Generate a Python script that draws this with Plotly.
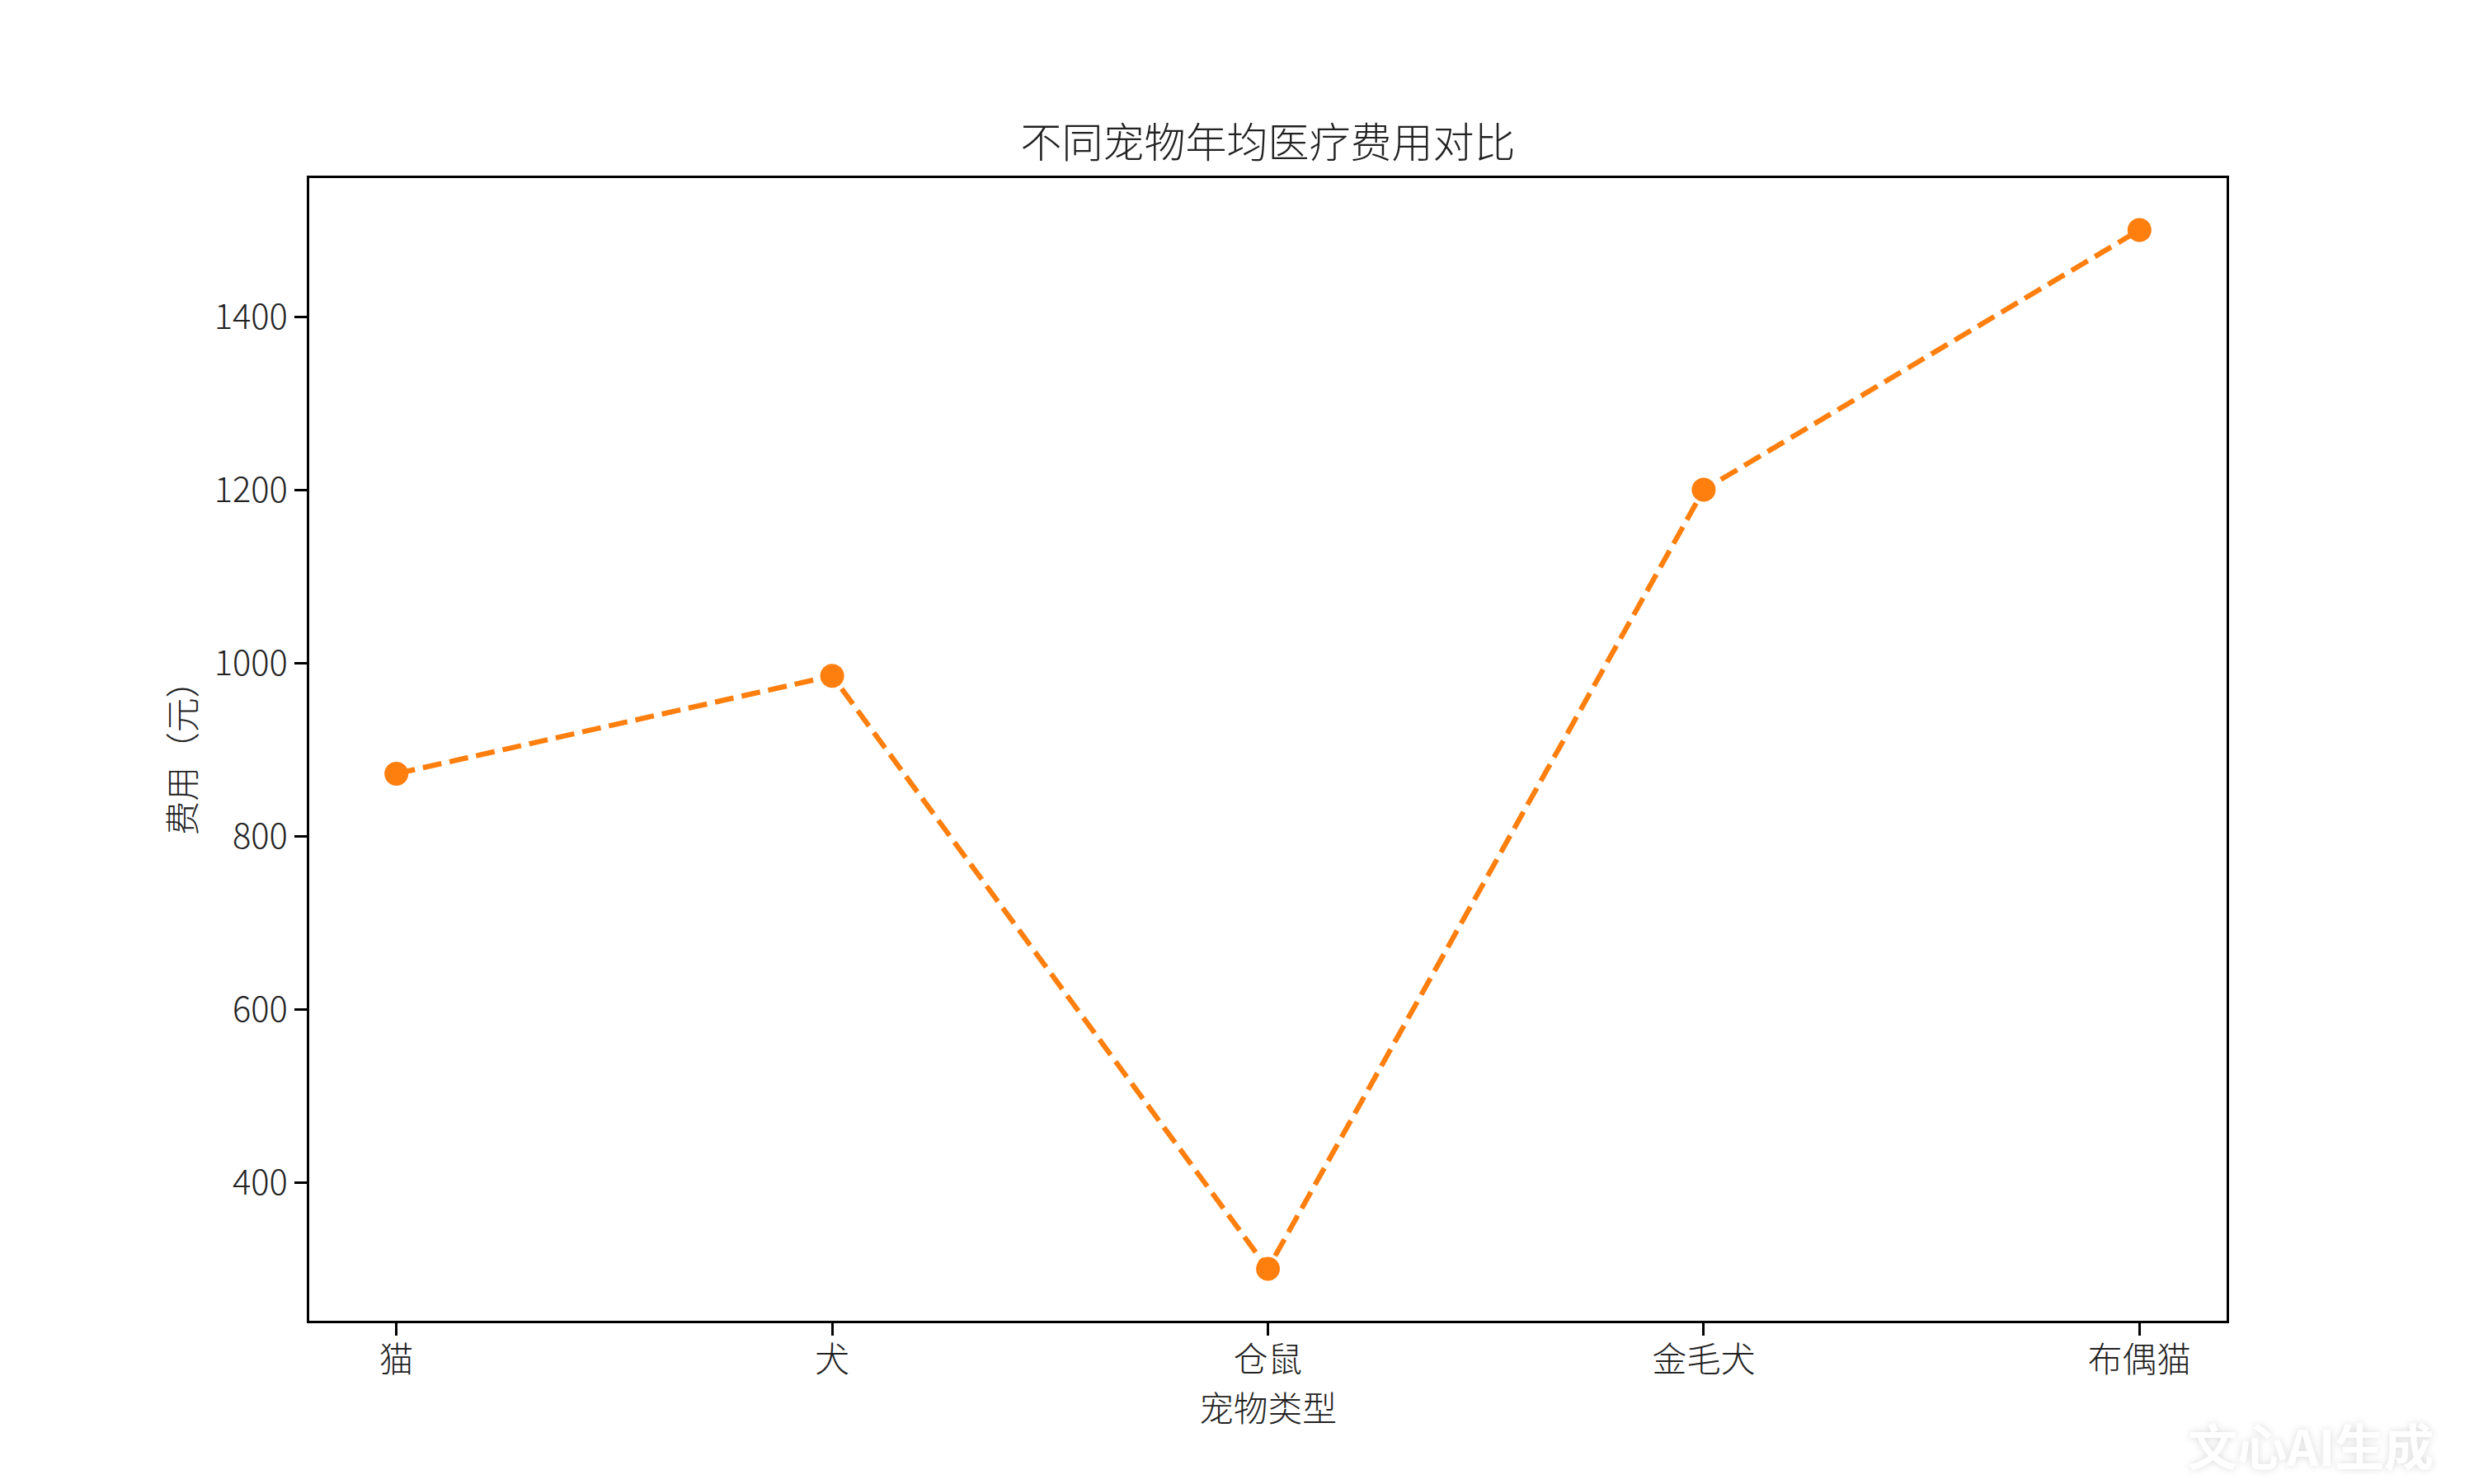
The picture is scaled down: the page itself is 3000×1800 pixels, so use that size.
import plotly.graph_objects as go

# dane
pets = ['猫', '犬', '仓鼠', '金毛犬', '布偶猫']
costs = [872, 985, 300, 1200, 1500]
y_ticks = [400, 600, 800, 1000, 1200, 1400]

font_name = 'Noto Sans CJK SC'
orange = '#ff7f0e'

fig = go.Figure()

fig.add_trace(go.Scatter(
    x=pets, y=costs, mode='lines+markers',
    line=dict(color=orange, width=6.25, dash='23px,10px'),
    marker=dict(color=orange, size=29),
    showlegend=False,
))

axis_common = dict(
    showline=True, linecolor='black', linewidth=3.3, mirror=True,
    ticks='outside', ticklen=14.6, tickwidth=3.3, tickcolor='black',
    showgrid=False, zeroline=False,
    tickfont=dict(family=font_name, size=41.7, color='#222222', weight=300),
)

fig.update_xaxes(
    range=[-0.2, 4.2], ticklabelstandoff=-6,
    title=dict(text='宠物类型', font=dict(family=font_name, size=41.7, color='#222222', weight=300), standoff=10),
    **axis_common,
)
fig.update_yaxes(
    range=[240, 1560], tickvals=y_ticks,
    title=dict(text='费用（元）', font=dict(family=font_name, size=41.7, color='#222222', weight=300), standoff=10),
    **axis_common,
)

# strona html ma margines 8px, wiec przesuwam marginesy
fig.update_layout(
    width=3000, height=1800,
    margin=dict(l=367, r=308, t=208, b=206),
    paper_bgcolor='white', plot_bgcolor='white',
    title=dict(text='不同宠物年均医疗费用对比', x=0.5, xref='paper', xanchor='center',
               y=1 - 165 / 1800, yanchor='middle', yref='container',
               font=dict(family=font_name, size=50, color='#222222', weight=300)),
    font=dict(family=font_name),
)

# znak wodny w rogu
fig.add_annotation(
    text='文心AI生成', xref='paper', yref='paper', x=1.044, y=-0.108,
    showarrow=False, xanchor='center', yanchor='middle',
    font=dict(family=font_name, size=60, color='white', weight=700,
              shadow='0px 0px 10px rgba(0,0,0,0.15)'),
)

fig.write_html('out.html')
